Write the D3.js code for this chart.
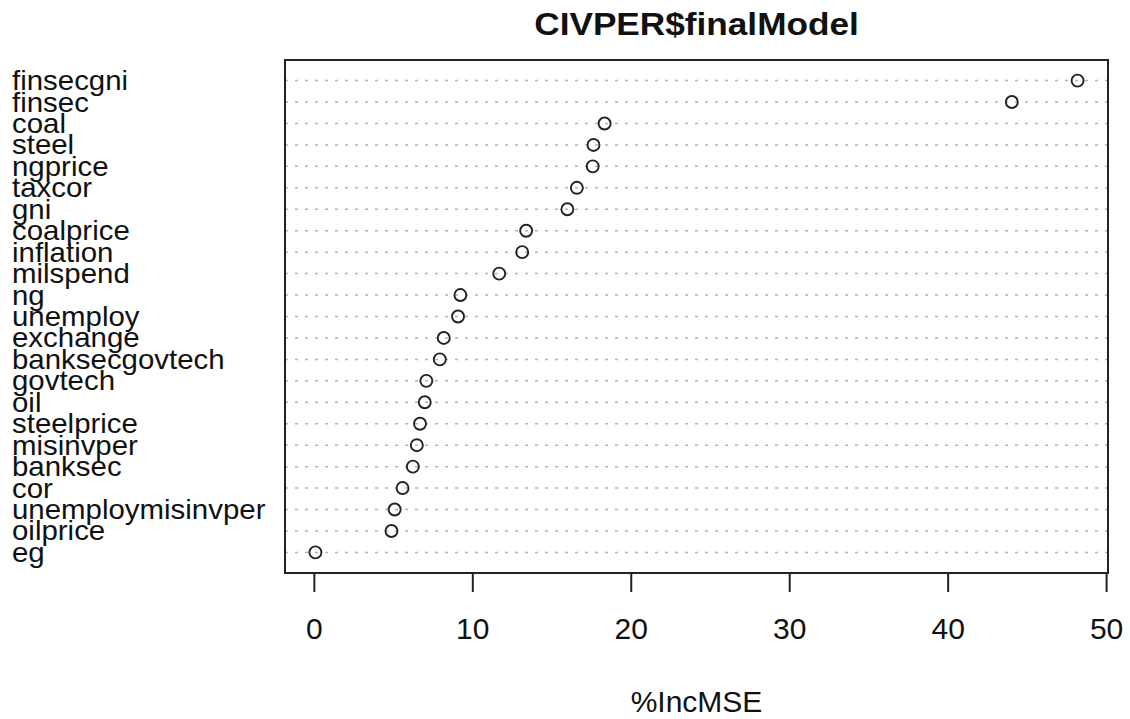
<!doctype html>
<html>
  <head>
    <script src="https://cdnjs.cloudflare.com/ajax/libs/d3/7.8.5/d3.min.js"></script>
    <style>
      body { margin: 0; background: #fff; }
      text { font-family: "Liberation Sans", Arial, Helvetica, sans-serif; fill: #111; }
      line.grid { stroke: #b4b4b4; stroke-width: 1.5; stroke-dasharray: 3 7; }
      circle.pt { fill: none; stroke: #222; stroke-width: 1.9; }
      rect.box { fill: none; stroke: #222; stroke-width: 2; }
    </style>
  </head>
  <body>
    <svg id="chart"></svg>
    <script>
      // variables, top to bottom as drawn
      var vars = ["finsecgni", "finsec", "coal", "steel", "ngprice", "taxcor", "gni",
        "coalprice", "inflation", "milspend", "ng", "unemploy", "exchange",
        "banksecgovtech", "govtech", "oil", "steelprice", "misinvper", "banksec",
        "cor", "unemploymisinvper", "oilprice", "eg"];
      var incMSE = [48.2, 44.05, 18.35, 17.65, 17.6, 16.6, 16.0,
        13.4, 13.15, 11.7, 9.25, 9.1, 8.2,
        7.95, 7.1, 7.0, 6.7, 6.5, 6.25,
        5.6, 5.1, 4.9, 0.1];
      var xTicks = [0, 10, 20, 30, 40, 50];

      var width = 1130, height = 719;
      var svg = d3.select("#chart").attr("width", width).attr("height", height);

      var box = {left: 285, right: 1108, top: 60, bottom: 573};

      var x = d3.scaleLinear().domain([-1.82, 50.12]).range([box.left, box.right]);
      // row index 0 = top
      var y = d3.scaleLinear().domain([-0.96, vars.length - 0.04]).range([box.top, box.bottom]);

      // dotted guide lines
      svg.selectAll("line.grid")
        .data(vars)
        .enter().append("line")
          .attr("class", "grid")
          .attr("x1", box.left).attr("x2", box.right)
          .attr("y1", (d, i) => y(i)).attr("y2", (d, i) => y(i));

      // points
      svg.selectAll("circle.pt")
        .data(incMSE)
        .enter().append("circle")
          .attr("class", "pt")
          .attr("cx", d => x(d))
          .attr("cy", (d, i) => y(i))
          .attr("r", 6);

      svg.append("rect").attr("class", "box")
        .attr("x", box.left).attr("y", box.top)
        .attr("width", box.right - box.left).attr("height", box.bottom - box.top);

      // row labels
      svg.selectAll("text.lab")
        .data(vars)
        .enter().append("text")
          .attr("class", "lab")
          .attr("transform", (d, i) => "translate(12," + (y(i) + 9.5) + ") scale(1.09,1)")
          .style("font-size", "27px")
          .text(d => d);

      // x axis
      var xAxis = d3.axisBottom(x).tickValues(xTicks).tickSize(19).tickPadding(26).tickSizeOuter(0);
      var gx = svg.append("g").attr("transform", "translate(0," + box.bottom + ")").call(xAxis);
      gx.select(".domain").remove();
      gx.selectAll(".tick line").attr("stroke", "#222").attr("stroke-width", 2);
      gx.selectAll(".tick text")
        .style("font-size", "30px")
        .style("font-family", "'Liberation Sans', Arial, sans-serif")
        .attr("fill", "#111");

      svg.append("text")
        .attr("x", (box.left + box.right) / 2).attr("y", 712)
        .attr("text-anchor", "middle")
        .style("font-size", "30px")
        .text("%IncMSE");

      svg.append("text")
        .attr("transform", "translate(" + ((box.left + box.right) / 2) + ",35) scale(1.1,1)")
        .attr("text-anchor", "middle")
        .style("font-size", "32px")
        .style("font-weight", "bold")
        .text("CIVPER$finalModel");
    </script>
  </body>
</html>
